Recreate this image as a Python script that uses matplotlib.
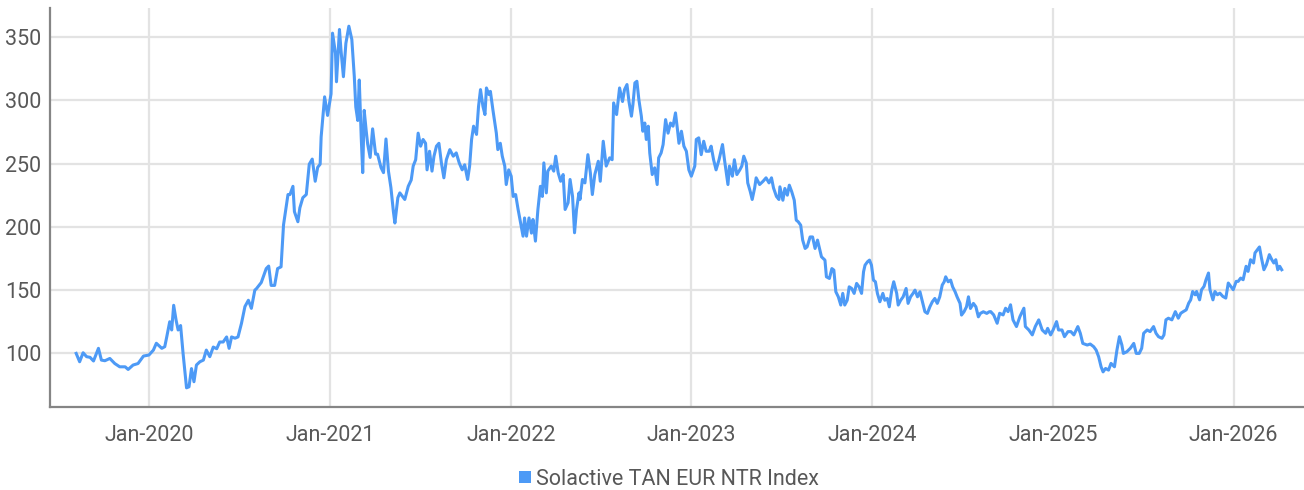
import pandas as pd
import matplotlib
matplotlib.use("Agg")
import matplotlib.pyplot as plt
import matplotlib.dates as mdates
from matplotlib.lines import Line2D

# ======================
# |       DATA         |
# ======================
dates = [
    # 2019 - mid 2020
    "2019-08-07", "2019-08-14", "2019-08-21", "2019-08-28", "2019-09-04", "2019-09-11",
    "2019-09-21", "2019-09-27", "2019-10-04", "2019-10-14", "2019-10-24", "2019-11-03",
    "2019-11-14", "2019-11-20", "2019-11-30", "2019-12-10", "2019-12-21", "2020-01-01",
    "2020-01-10", "2020-01-16", "2020-01-27", "2020-02-02", "2020-02-06", "2020-02-12",
    "2020-02-16", "2020-02-20", "2020-02-25", "2020-02-29", "2020-03-05", "2020-03-10",
    "2020-03-14", "2020-03-17", "2020-03-22", "2020-03-27", "2020-04-01", "2020-04-06",
    "2020-04-13", "2020-04-20", "2020-04-26", "2020-05-03", "2020-05-10", "2020-05-17",
    "2020-05-23", "2020-05-30", "2020-06-06", "2020-06-11", "2020-06-16", "2020-06-23",
    "2020-06-29", "2020-07-06", "2020-07-13", "2020-07-20", "2020-07-26", "2020-08-02",
    # mid 2020 - mid 2021
    "2020-08-05", "2020-08-15", "2020-08-25", "2020-08-30", "2020-09-04", "2020-09-11",
    "2020-09-17", "2020-09-24", "2020-09-29", "2020-10-04", "2020-10-08", "2020-10-12",
    "2020-10-18", "2020-10-21", "2020-10-28", "2020-11-01", "2020-11-07", "2020-11-14",
    "2020-11-20", "2020-11-26", "2020-12-02", "2020-12-07", "2020-12-12", "2020-12-14",
    "2020-12-21", "2020-12-27", "2021-01-03", "2021-01-06", "2021-01-12", "2021-01-14",
    "2021-01-20", "2021-01-23", "2021-01-28", "2021-02-02", "2021-02-08", "2021-02-14",
    "2021-02-19", "2021-02-22", "2021-02-26", "2021-03-01", "2021-03-05", "2021-03-08",
    "2021-03-11", "2021-03-15", "2021-03-18", "2021-03-23", "2021-03-28", "2021-04-03",
    "2021-04-07", "2021-04-14", "2021-04-19", "2021-04-24", "2021-04-29", "2021-05-04",
    "2021-05-09", "2021-05-12", "2021-05-18",
    # mid 2021 - mid 2022
    "2021-05-22", "2021-06-01", "2021-06-08", "2021-06-14", "2021-06-18", "2021-06-23",
    "2021-06-28", "2021-07-03", "2021-07-08", "2021-07-13", "2021-07-16", "2021-07-21",
    "2021-07-26", "2021-07-30", "2021-08-04", "2021-08-09", "2021-08-14", "2021-08-19",
    "2021-08-24", "2021-08-31", "2021-09-07", "2021-09-13", "2021-09-19", "2021-09-25",
    "2021-09-30", "2021-10-06", "2021-10-10", "2021-10-14", "2021-10-18", "2021-10-24",
    "2021-10-28", "2021-11-01", "2021-11-06", "2021-11-10", "2021-11-13", "2021-11-18",
    "2021-11-21", "2021-11-26", "2021-11-30", "2021-12-03", "2021-12-06", "2021-12-11",
    "2021-12-15", "2021-12-20", "2021-12-23", "2021-12-28", "2022-01-02", "2022-01-06",
    "2022-01-11", "2022-01-16", "2022-01-21", "2022-01-26", "2022-01-29", "2022-02-02",
    "2022-02-07", "2022-02-12", "2022-02-15", "2022-02-20", "2022-02-25", "2022-03-02",
    "2022-03-06", "2022-03-09", "2022-03-14", "2022-03-17", "2022-03-24", "2022-03-29",
    "2022-04-02", "2022-04-07", "2022-04-12", "2022-04-17", "2022-04-21", "2022-04-27",
    "2022-05-01", "2022-05-06", "2022-05-10", "2022-05-14", "2022-05-19",
    # mid 2022 - mid 2023
    "2022-05-21", "2022-05-26", "2022-05-31", "2022-06-06", "2022-06-11", "2022-06-15",
    "2022-06-20", "2022-06-27", "2022-07-01", "2022-07-07", "2022-07-13", "2022-07-20",
    "2022-07-25", "2022-07-28", "2022-08-03", "2022-08-09", "2022-08-15", "2022-08-19",
    "2022-08-24", "2022-08-28", "2022-09-02", "2022-09-05", "2022-09-09", "2022-09-13",
    "2022-09-17", "2022-09-22", "2022-09-25", "2022-09-29", "2022-10-02", "2022-10-06",
    "2022-10-09", "2022-10-14", "2022-10-19", "2022-10-24", "2022-10-27", "2022-11-01",
    "2022-11-05", "2022-11-10", "2022-11-15", "2022-11-20", "2022-11-25", "2022-11-30",
    "2022-12-04", "2022-12-07", "2022-12-12", "2022-12-17", "2022-12-22", "2022-12-27",
    "2023-01-01", "2023-01-08", "2023-01-11", "2023-01-16", "2023-01-21", "2023-01-26",
    "2023-01-31", "2023-02-06", "2023-02-10", "2023-02-15", "2023-02-20", "2023-02-26",
    "2023-03-05", "2023-03-09", "2023-03-16", "2023-03-19", "2023-03-25", "2023-03-29",
    "2023-04-03", "2023-04-09", "2023-04-13", "2023-04-17", "2023-04-22", "2023-04-25",
    "2023-04-30", "2023-05-04", "2023-05-09", "2023-05-12", "2023-05-19", "2023-05-26",
    "2023-06-01", "2023-06-07", "2023-06-12", "2023-06-16", "2023-06-22", "2023-06-27",
    # mid 2023 - mid 2024
    "2023-06-29", "2023-07-05", "2023-07-09", "2023-07-14", "2023-07-18", "2023-07-23",
    "2023-07-28", "2023-08-01", "2023-08-05", "2023-08-10", "2023-08-14", "2023-08-19",
    "2023-08-23", "2023-08-29", "2023-09-03", "2023-09-08", "2023-09-13", "2023-09-17",
    "2023-09-21", "2023-09-28", "2023-10-01", "2023-10-07", "2023-10-12", "2023-10-16",
    "2023-10-20", "2023-10-25", "2023-10-30", "2023-11-03", "2023-11-07", "2023-11-12",
    "2023-11-16", "2023-11-21", "2023-11-26", "2023-12-01", "2023-12-06", "2023-12-11",
    "2023-12-15", "2023-12-18", "2023-12-23", "2023-12-27", "2023-12-31", "2024-01-04",
    "2024-01-08", "2024-01-12", "2024-01-17", "2024-01-23", "2024-01-27", "2024-02-01",
    "2024-02-05", "2024-02-10", "2024-02-14", "2024-02-20", "2024-02-23", "2024-02-28",
    "2024-03-04", "2024-03-10", "2024-03-14", "2024-03-19", "2024-03-24", "2024-03-28",
    "2024-04-02", "2024-04-07", "2024-04-12", "2024-04-17", "2024-04-22", "2024-04-27",
    "2024-05-02", "2024-05-07", "2024-05-12", "2024-05-17", "2024-05-22", "2024-05-26",
    "2024-05-29", "2024-06-03", "2024-06-08", "2024-06-12", "2024-06-17", "2024-06-21",
    "2024-06-27", "2024-06-30", "2024-07-05", "2024-07-10", "2024-07-14", "2024-07-18",
    "2024-07-24", "2024-07-29", "2024-08-03", "2024-08-07", "2024-08-13", "2024-08-20",
    "2024-08-25",
    # late 2024 - 2026
    "2024-08-28", "2024-09-03", "2024-09-10", "2024-09-15", "2024-09-22", "2024-09-27",
    "2024-10-02", "2024-10-07", "2024-10-12", "2024-10-19", "2024-10-26", "2024-11-03",
    "2024-11-06", "2024-11-13", "2024-11-20", "2024-11-26", "2024-12-03", "2024-12-10",
    "2024-12-17", "2024-12-21", "2024-12-27", "2025-01-01", "2025-01-08", "2025-01-12",
    "2025-01-19", "2025-01-24", "2025-01-31", "2025-02-06", "2025-02-12", "2025-02-20",
    "2025-02-25", "2025-03-02", "2025-03-11", "2025-03-17", "2025-03-24", "2025-03-29",
    "2025-04-03", "2025-04-08", "2025-04-12", "2025-04-17", "2025-04-23", "2025-04-28",
    "2025-05-05", "2025-05-10", "2025-05-15", "2025-05-20", "2025-05-23", "2025-05-30",
    "2025-06-06", "2025-06-13", "2025-06-18", "2025-06-24", "2025-06-29", "2025-07-03",
    "2025-07-10", "2025-07-16", "2025-07-23", "2025-07-28", "2025-08-02", "2025-08-09",
    "2025-08-13", "2025-08-17", "2025-08-22", "2025-08-29", "2025-09-05", "2025-09-11",
    "2025-09-16", "2025-09-21", "2025-09-27", "2025-10-02", "2025-10-06", "2025-10-10",
    "2025-10-15", "2025-10-18", "2025-10-24", "2025-10-28", "2025-11-02", "2025-11-06",
    "2025-11-11", "2025-11-14", "2025-11-20", "2025-11-24", "2025-11-29", "2025-12-04",
    "2025-12-10", "2025-12-16", "2025-12-21", "2025-12-26", "2025-12-31", "2026-01-06",
    "2026-01-10", "2026-01-15", "2026-01-20", "2026-01-26", "2026-01-30", "2026-02-04",
    "2026-02-10", "2026-02-13", "2026-02-18", "2026-02-22", "2026-02-26", "2026-03-03",
    "2026-03-08", "2026-03-14", "2026-03-19", "2026-03-23", "2026-03-27", "2026-03-31",
    "2026-04-04", "2026-04-08",
]

index_values = [
    # 2019 - mid 2020
    100, 93.4, 100.5, 97.4, 96.9, 94, 104, 94.7, 94.2, 96, 92, 89.4,
    89.4, 87.3, 90.8, 92, 97.9, 98.7, 102.6, 108, 104, 105.3, 113, 125,
    118.5, 138, 126, 118.5, 122, 100, 84, 72.8, 73.6, 88, 77.6, 90.8,
    93.4, 94.7, 102.6, 97.4, 105, 103.7, 109, 109, 113, 104, 113, 112,
    113, 123.7, 137, 142, 135.6, 150,
    # mid 2020 - mid 2021
    151, 156, 167, 169, 153.7, 153.7, 167, 168.4, 201.6, 215, 225.5, 225.5,
    232, 212, 204, 215, 223, 225.5, 249.5, 253.5, 236, 247, 249.5, 271,
    302.7, 288, 305, 353, 337, 314.6, 355.9, 340, 318.6, 345, 358.5, 348,
    318.6, 294.7, 284, 316, 270.7, 242.8, 292, 276, 265.4, 254.8, 277.4, 257.4,
    257.4, 246.8, 242.8, 269.4, 244, 230.9, 212, 203, 223,
    # mid 2021 - mid 2022
    226.8, 221.6, 232, 237, 248, 253, 274, 263.7, 269, 266, 245, 259.7,
    244, 255.8, 263.7, 266, 250.5, 238.7, 253, 261, 255.8, 258.4, 250.5, 245,
    249, 237.4, 248, 269, 279.5, 273, 295, 308.4, 295, 288.7, 309.7, 304.5,
    307, 292.6, 282, 274, 261, 266, 255.8, 248, 233.4, 245, 240, 224,
    225.5, 213.7, 203, 192.6, 207, 192.6, 207, 195, 205.8, 188.7, 213.7, 232,
    224, 250.5, 226.8, 244, 248, 244, 255.8, 242.6, 236, 241.3, 213.7, 219,
    237.4, 224, 195.3, 213.7, 226.8,
    # mid 2022 - mid 2023
    221.6, 237.4, 234.7, 257, 242.6, 225.5, 241.3, 251.8, 236, 267.6, 248, 254.5,
    253, 297.9, 288.7, 309.7, 299, 308.4, 312.4, 299, 287.4, 296.6, 313.7, 315,
    300.5, 287.4, 275.5, 282, 269, 279.5, 258.4, 241.3, 246.6, 233.4, 254.5, 258.4,
    265, 284.7, 274, 282, 279.5, 290, 276.8, 266, 275.5, 263.7, 259.7, 245,
    240, 248, 269, 270.3, 257, 267.6, 259.7, 259.7, 263.7, 253, 245, 253,
    265, 253, 233.4, 248, 240, 253, 241.3, 245, 248, 255.8, 250.5, 234.7,
    228, 221.6, 230.8, 238.7, 233.4, 236, 238.7, 234.7, 238.7, 230.8, 224, 221.6,
    # mid 2023 - mid 2024
    231.6, 221, 230.3, 225, 232.9, 227.6, 221, 205.3, 204, 201.3, 189.5, 182.9,
    184.2, 192, 192, 182.9, 189.5, 182.9, 176.3, 173.7, 160.5, 159.2, 167, 165.8,
    148.7, 144.7, 138.2, 147.4, 138.2, 142, 152.6, 151.3, 147.4, 155.3, 152.6, 147.4,
    164.5, 169.7, 172.4, 173.7, 169.7, 157.9, 156.6, 147.4, 140.8, 147.4, 142, 143.4,
    136.8, 150, 156.6, 147.4, 138.2, 142, 144.7, 151.3, 139.5, 144.7, 147.4, 150,
    144.7, 148.7, 140.8, 132.9, 131.6, 136.8, 140.8, 143.4, 139.5, 144.7, 154, 156.6,
    160.5, 156.6, 157.9, 152.6, 148.7, 144.7, 139.5, 130.3, 132.9, 136.8, 144.7, 135.5,
    139.5, 136.8, 128.9, 131.6, 132.9, 131.6, 132.9,
    # late 2024 - 2026
    133, 130.4, 123.8, 131.7, 130.4, 135.7, 133, 138.4, 126.5, 121.2, 129.1, 135.7,
    121.2, 118.5, 114.6, 121.2, 126.5, 118.5, 115.9, 119.8, 114.6, 118.5, 125.1, 118.5,
    118.5, 113.2, 117.2, 117.2, 114.6, 121.2, 115.9, 107.9, 106.6, 107.4, 105.3, 102.6,
    97.4, 89.4, 85.4, 88.1, 86.8, 92.1, 89.4, 102.6, 113.2, 106.6, 100, 101.3,
    104, 107.9, 100, 100, 104, 115.9, 118.5, 117.2, 121.2, 115.9, 113.2, 111.9,
    114.6, 126.5, 127.8, 126.5, 133, 127.8, 131.7, 133, 134.4, 139.7, 142.3, 148.9,
    146.3, 148.9, 142.3, 150.3, 152.9, 158.2, 163.5, 150.3, 142.3, 148.9, 146.3, 147.6,
    145, 143.7, 155.6, 152.9, 150.3, 156.9, 156.9, 159.5, 158.2, 168.8, 164.8, 174,
    171.4, 179.4, 182, 184.1, 175.4, 166.1, 170.1, 178, 174, 171.4, 174, 166.1,
    168.8, 166.1,
]

tick_years = ["2020", "2021", "2022", "2023", "2024", "2025", "2026"]
y_ticks = [100, 150, 200, 250, 300, 350]
series_name = "Solactive TAN EUR NTR Index"

# ======================
# |      STYLE         |
# ======================
line_color = "#4d9af6"
grid_color = "#e3e3e3"
text_color = "#585858"
font_size = 15.5
plt.rcParams["font.family"] = ["Roboto", "DejaVu Sans"]

x = pd.to_datetime(dates)

fig = plt.figure(figsize=(13.04, 4.90), dpi=100)
ax = fig.add_axes([0.0383, 0.169, 0.9617, 0.815])

ax.plot(x, index_values, color=line_color, linewidth=2.2, zorder=3)

# Axis limits
ax.set_xlim(pd.Timestamp("2019-06-15"), pd.Timestamp("2026-05-23"))
ax.set_ylim(57.5, 373)

# Ticks
ax.set_xticks([pd.Timestamp(y + "-01-01") for y in tick_years])
ax.xaxis.set_major_formatter(mdates.DateFormatter("%b-%Y"))
ax.set_yticks(y_ticks)
ax.tick_params(axis="both", length=0, labelsize=font_size, labelcolor=text_color)
ax.tick_params(axis="x", pad=13)
ax.tick_params(axis="y", pad=6)

# Grid
ax.grid(True, color=grid_color, linewidth=1.6, zorder=0)
ax.set_axisbelow(True)

# Spines
for side in ["top", "right"]:
    ax.spines[side].set_visible(False)
for side in ["left", "bottom"]:
    ax.spines[side].set_color("#858585")
    ax.spines[side].set_linewidth(1.6)

# Legend
handle = Line2D([], [], marker="s", linestyle="none", markersize=8,
                color=line_color, markeredgewidth=0)
leg = fig.legend([handle], [series_name], loc="center",
                 bbox_to_anchor=(0.511, 0.022), frameon=False,
                 handletextpad=0.0, handlelength=1.0,
                 prop={"size": font_size})
for t in leg.get_texts():
    t.set_color(text_color)

fig.savefig("out.png", dpi=100)
